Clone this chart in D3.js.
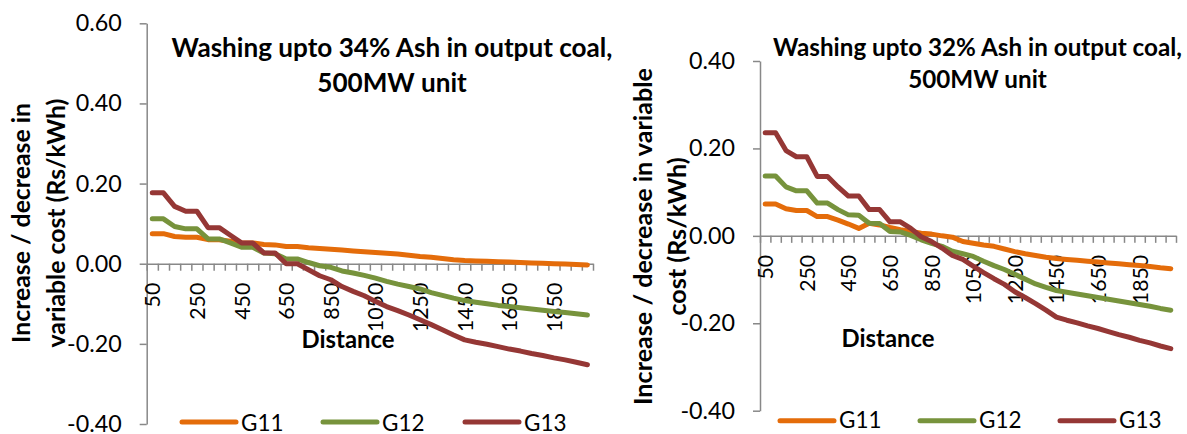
<!DOCTYPE html>
<html>
<head>
<meta charset="utf-8">
<script src="https://cdn.jsdelivr.net/npm/d3@7"></script>
<style>
  html, body { margin: 0; padding: 0; background: #fff; }
  svg { display: block; font-family: Lato, "Open Sans", sans-serif; }
</style>
</head>
<body>
<svg id="chart" width="1187" height="434"></svg>
<script>
// ---------------- DATA ----------------
const distances = [50,100,150,200,250,300,350,400,450,500,550,600,650,700,750,800,850,900,950,1000,
                   1050,1100,1150,1200,1250,1300,1350,1400,1450,1500,1550,1600,1650,1700,1750,1800,1850,1900,1950,2000];
const xTickLabels = [50,250,450,650,850,1050,1250,1450,1650,1850];
const seriesNames = ["G11","G12","G13"];

// Left chart: washing upto 34% ash
const g11_34 = [0.075,0.075,0.068,0.066,0.066,0.060,0.060,0.056,0.052,0.052,0.048,0.047,0.043,0.043,0.040,0.038,0.036,0.034,0.032,0.030,
                0.028,0.026,0.024,0.021,0.018,0.016,0.013,0.010,0.008,0.007,0.006,0.005,0.004,0.003,0.002,0.001,0.000,-0.001,-0.002,-0.003];
const g12_34 = [0.112,0.112,0.093,0.087,0.087,0.062,0.062,0.052,0.041,0.041,0.027,0.025,0.012,0.012,0.003,-0.005,-0.009,-0.018,-0.023,-0.029,
                -0.036,-0.044,-0.051,-0.057,-0.063,-0.072,-0.079,-0.086,-0.092,-0.096,-0.100,-0.104,-0.107,-0.110,-0.113,-0.116,-0.119,-0.122,-0.125,-0.128];
const g13_34 = [0.177,0.177,0.143,0.131,0.131,0.090,0.090,0.071,0.052,0.052,0.027,0.027,0.000,0.000,-0.015,-0.030,-0.040,-0.057,-0.069,-0.080,
                -0.094,-0.107,-0.117,-0.128,-0.140,-0.152,-0.165,-0.178,-0.190,-0.196,-0.201,-0.207,-0.213,-0.218,-0.224,-0.229,-0.235,-0.240,-0.246,-0.252];

// Right chart: washing upto 32% ash
const g11_32 = [0.073,0.073,0.062,0.058,0.058,0.044,0.044,0.036,0.027,0.017,0.029,0.025,0.019,0.014,0.010,0.006,0.004,0.000,-0.003,-0.013,
                -0.017,-0.021,-0.024,-0.030,-0.036,-0.041,-0.045,-0.049,-0.052,-0.054,-0.056,-0.058,-0.060,-0.062,-0.064,-0.066,-0.068,-0.070,-0.073,-0.075];
const g12_32 = [0.137,0.137,0.112,0.103,0.103,0.075,0.075,0.060,0.048,0.047,0.029,0.028,0.010,0.009,0.001,-0.009,-0.017,-0.024,-0.035,-0.041,
                -0.047,-0.058,-0.068,-0.077,-0.088,-0.099,-0.110,-0.118,-0.125,-0.129,-0.133,-0.137,-0.141,-0.145,-0.149,-0.153,-0.157,-0.161,-0.166,-0.170];
const g13_32 = [0.236,0.236,0.195,0.181,0.181,0.136,0.136,0.112,0.091,0.091,0.060,0.060,0.032,0.032,0.017,-0.002,-0.013,-0.028,-0.045,-0.054,
                -0.069,-0.084,-0.098,-0.111,-0.128,-0.141,-0.155,-0.170,-0.186,-0.193,-0.199,-0.206,-0.212,-0.219,-0.226,-0.232,-0.239,-0.245,-0.252,-0.258];

const yTicksLeft = [-0.40,-0.20,0.00,0.20,0.40,0.60];
const yTicksRight = [-0.40,-0.20,0.00,0.20,0.40];
const titleLeft = ["Washing upto 34% Ash in output coal,", "500MW unit"];
const titleRight = ["Washing upto 32% Ash in output coal,", "500MW unit"];
const yTitleLeft = ["Increase / decrease in", "variable cost (Rs/kWh)"];
const yTitleRight = ["Increase / decrease in variable", "cost (Rs/kWh)"];
const xTitle = "Distance";

// ---------------- STYLE ----------------
const colors = ["#E46C0A", "#77933C", "#953735"];
const axisColor = "#888888";
const svg = d3.select("#chart");

// measure a sample string to pick a font size that matches the reference width
function sizeFor(str, target, weight) {
  const t = svg.append("text").attr("font-size", 20).attr("font-weight", weight || "normal").text(str);
  const w = t.node().getComputedTextLength();
  t.remove();
  return 20 * target / w;
}
const tickFs = sizeFor("0.60", 46);
const xTickFs = sizeFor("250", 37);
const legendFs = sizeFor("G11", 42.5);

function fit(sel, target) {
  const w = sel.node().getComputedTextLength();
  const fs = parseFloat(sel.attr("font-size"));
  const nfs = fs * target / w;
  sel.attr("font-size", nfs);
  return nfs;
}

function drawPanel(cfg) {
  const g = svg.append("g");
  const x = d3.scaleBand().domain(distances).range([cfg.x0, cfg.x1]).padding(0);
  const y = d3.scaleLinear().domain(cfg.yDomain).range(cfg.yRange);
  const xIdx = d3.scaleLinear().domain([0, distances.length]).range([cfg.x0, cfg.x1]);

  // Y axis
  const yAxis = g.append("g").attr("transform", `translate(${cfg.x0},0)`)
    .call(d3.axisLeft(y).tickValues(cfg.yTicks).tickFormat(d => d.toFixed(2))
      .tickSize(7).tickSizeOuter(0).tickPadding(18));
  yAxis.select(".domain").attr("stroke", axisColor).attr("stroke-width", 1.5);
  yAxis.selectAll(".tick line").attr("stroke", axisColor).attr("stroke-width", 1.5);
  yAxis.selectAll(".tick text").attr("font-size", tickFs).attr("fill", "#000")
    .attr("font-family", "Lato, 'Open Sans', sans-serif");

  // X axis tick marks at category boundaries, located at y=0
  const y0 = y(0);
  const xAxis = g.append("g").attr("transform", `translate(0,${y0})`)
    .call(d3.axisBottom(xIdx).tickValues(d3.range(distances.length + 1)).tickFormat("")
      .tickSize(7).tickSizeOuter(0));
  xAxis.select(".domain").attr("stroke", axisColor).attr("stroke-width", 1.5);
  xAxis.selectAll(".tick line").attr("stroke", axisColor).attr("stroke-width", 1.5);

  // X tick labels (rotated)
  g.append("g").selectAll("text").data(xTickLabels).join("text")
    .attr("transform", d => `translate(${x(d) + x.bandwidth() / 2},${y0 + 19}) rotate(-90)`)
    .attr("text-anchor", "end")
    .attr("y", 8)
    .attr("font-size", xTickFs)
    .attr("fill", "#000")
    .text(d => d);

  // Lines
  const line = d3.line().x((d, i) => x(distances[i]) + x.bandwidth() / 2).y(d => y(d));
  cfg.series.forEach((s, k) => {
    g.append("path").datum(s).attr("d", line)
      .attr("fill", "none").attr("stroke", colors[k]).attr("stroke-width", 5)
      .attr("stroke-linejoin", "round").attr("stroke-linecap", "round");
  });

  // Title
  const t1 = g.append("text").attr("x", cfg.titleX).attr("y", cfg.titleY[0])
    .attr("text-anchor", "middle").attr("font-weight", "bold").attr("font-size", 22).text(cfg.title[0]);
  const tfs = fit(t1, cfg.titleW);
  g.append("text").attr("x", cfg.titleX).attr("y", cfg.titleY[1])
    .attr("text-anchor", "middle").attr("font-weight", "bold").attr("font-size", tfs).text(cfg.title[1]);

  // Y title
  const yt1 = g.append("text").attr("transform", `translate(${cfg.yTitleX[0]},${cfg.yTitleY}) rotate(-90)`)
    .attr("text-anchor", "middle").attr("font-weight", "bold").attr("font-size", 22).text(cfg.yTitle[0]);
  const yfs = fit(yt1, cfg.yTitleW);
  g.append("text").attr("transform", `translate(${cfg.yTitleX[1]},${cfg.yTitleY}) rotate(-90)`)
    .attr("text-anchor", "middle").attr("font-weight", "bold").attr("font-size", yfs).text(cfg.yTitle[1]);

  // X title
  const xt = g.append("text").attr("x", cfg.xTitleX).attr("y", cfg.xTitleY)
    .attr("text-anchor", "middle").attr("font-weight", "bold").attr("font-size", 22).text(xTitle);
  fit(xt, 93);

  // Legend
  seriesNames.forEach((name, k) => {
    const lx = cfg.legendX[k];
    g.append("line").attr("x1", lx).attr("x2", lx + 54).attr("y1", cfg.legendY).attr("y2", cfg.legendY)
      .attr("stroke", colors[k]).attr("stroke-width", 5).attr("stroke-linecap", "round");
    g.append("text").attr("x", lx + 59).attr("y", cfg.legendTextY)
      .attr("font-size", legendFs).attr("fill", "#000").text(name);
  });
}

drawPanel({
  x0: 146.7, x1: 593, yDomain: [-0.4, 0.6], yRange: [424, 23.3], yTicks: yTicksLeft,
  series: [g11_34, g12_34, g13_34],
  title: titleLeft, titleX: 392, titleY: [56.7, 91.7], titleW: 441,
  yTitle: yTitleLeft, yTitleX: [30, 65], yTitleY: 223, yTitleW: 240,
  xTitleX: 348, xTitleY: 348,
  legendX: [182, 323, 465], legendY: 422, legendTextY: 430.5
});

drawPanel({
  x0: 760, x1: 1176, yDomain: [-0.4, 0.4], yRange: [410.7, 61], yTicks: yTicksRight,
  series: [g11_32, g12_32, g13_32],
  title: titleRight, titleX: 977.5, titleY: [56, 88], titleW: 409,
  yTitle: yTitleRight, yTitleX: [651.5, 686], yTitleY: 236.5, yTitleW: 337,
  xTitleX: 888, xTitleY: 346.7,
  legendX: [780, 920, 1060], legendY: 420.7, legendTextY: 428.3
});
</script>
</body>
</html>
